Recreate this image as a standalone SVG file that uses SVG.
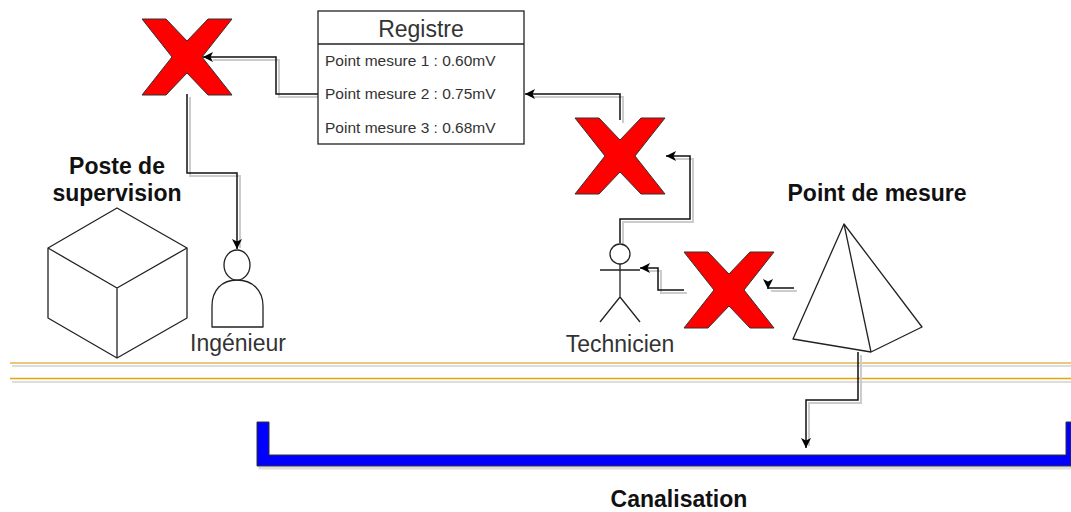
<svg xmlns="http://www.w3.org/2000/svg" width="1071" height="512" viewBox="0 0 1071 512">
<style>
text{font-family:"Liberation Sans",Arial,sans-serif;fill:#333}
.b{font-weight:bold;font-size:23px;fill:#111;text-anchor:middle}
.l{font-size:23px;text-anchor:middle}
.r{font-size:15.500px}
.s{fill:#fff;stroke:#222;stroke-width:1.3;stroke-linejoin:round}
.n{fill:none;stroke:#222;stroke-width:1.3;stroke-linejoin:round}
.c{fill:none;stroke:#111;stroke-width:1.5}
.h{fill:none;stroke:#ccc;stroke-width:2}
.x{fill:#f00;stroke:#333;stroke-width:1}
</style>
<defs>
<marker id="a" markerUnits="userSpaceOnUse" markerWidth="12" markerHeight="12" refX="10" refY="5" orient="auto"><path d="M0 0L10 5L0 10L2.500 5Z" fill="#000"/></marker>
<path id="xs" d="M0 0H24L45 22L66 0H90L60 38L90 76H66L45 54L24 76H0L30 38Z"/>
</defs>
<g id="pipeline">
<path d="M12 366H1071M12 382H1071" stroke="#ddd" stroke-width="2" fill="none"/>
<path d="M10 363H1071" stroke="#e2b850" stroke-width="1.500"/>
<path d="M10 378.500H1071" stroke="#e6a50e" stroke-width="1.500"/>
</g>
<g id="connectors">
<g class="h" transform="translate(3 3)">
<path d="M318 94H276V57H210"/>
<path d="M187 94V173H237V245"/>
<path d="M620 120V94H530"/>
<path d="M620 243V219H690V156H671"/>
<path d="M684 290H658V268H645"/>
<path d="M794 288H768"/>
<path d="M858 352V400H806V443"/>
</g>
<path class="c" marker-end="url(#a)" d="M318 94H276V57H203"/>
<path class="c" marker-end="url(#a)" d="M187 94V173H237V249"/>
<path class="c" marker-end="url(#a)" d="M620 120V94H525"/>
<path class="c" marker-end="url(#a)" d="M620 243V219H690V156H666"/>
<path class="c" marker-end="url(#a)" d="M684 290H658V268H640"/>
<path class="c" marker-end="url(#a)" d="M794 288H768V289"/>
<path class="c" marker-end="url(#a)" d="M858 352V400H806V448"/>
</g>
<g id="x1"><use href="#xs" class="x" x="142" y="19"/></g>
<g id="x2"><use href="#xs" class="x" x="575" y="118"/></g>
<g id="x3"><use href="#xs" class="x" x="684" y="252"/></g>
<g id="registre">
<rect x="318" y="11" width="206" height="133" fill="#fff" stroke="#222" stroke-width="1.300"/>
<path d="M318 44H524" stroke="#222" stroke-width="1.300"/>
<text class="l" x="421" y="37">Registre</text>
<text class="r" x="325" y="66">Point mesure 1 : 0.60mV</text>
<text class="r" x="325" y="99">Point mesure 2 : 0.75mV</text>
<text class="r" x="325" y="133">Point mesure 3 : 0.68mV</text>
</g>
<g id="poste">
<text class="b" x="117" y="174">Poste de</text>
<text class="b" x="117" y="201">supervision</text>
<path class="s" d="M117 208L187 248V318L117 358L48 318V248Z"/>
<path class="n" d="M48 248L117 288L187 248M117 288V358"/>
</g>
<g id="ingenieur">
<path class="s" d="M212 327V306C212 290 222 280 237 280C252 280 263 290 263 306V327Z"/>
<ellipse class="s" cx="237" cy="265" rx="13" ry="15"/>
<text class="l" x="238" y="351">Ingénieur</text>
</g>
<g id="technicien">
<circle class="n" cx="620" cy="254" r="10"/>
<path class="n" d="M620 264V297M600 270H640M600 322L620 297L640 322"/>
<text class="l" x="620" y="352">Technicien</text>
</g>
<g id="point-mesure">
<text class="b" x="877" y="201">Point de mesure</text>
<path class="s" d="M844 224L922 327L871 352L793 339Z"/>
<path class="n" d="M844 224L871 352"/>
</g>
<g id="canalisation">
<path d="M258.500 468H1071" stroke="#ddd" stroke-width="3"/>
<path d="M257 422H269V455H1066V422H1071V466H257Z" fill="#00f" stroke="#333" stroke-width="1"/>
<text class="b" x="679" y="507">Canalisation</text>
</g>
</svg>
